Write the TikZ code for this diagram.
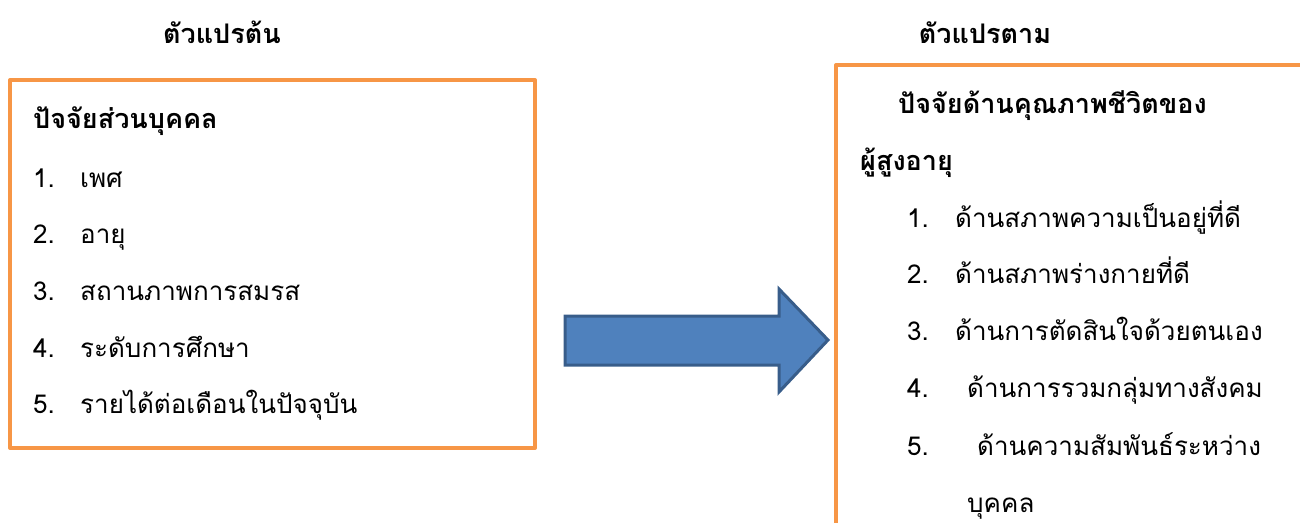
\documentclass[tikz,border=0pt]{standalone}
\usepackage{fontspec}
\newfontfamily\thaifont[Script=Thai]{Loma}
\usetikzlibrary{positioning}

\definecolor{boxorange}{HTML}{F79646}
\definecolor{arrowfill}{HTML}{4F81BD}
\definecolor{arrowline}{HTML}{385D8A}

\tikzset{
    frame/.style={draw=boxorange, line width=4pt, line join=round},
    headtext/.style={font=\thaifont\bfseries\fontsize{27}{31}\selectfont, inner sep=0pt},
    itemtext/.style={font=\thaifont\fontsize{26}{30}\selectfont, inner sep=0pt, anchor=base west}
}

\begin{document}
\begin{tikzpicture}[x=1pt, y=-1pt]
            \useasboundingbox (0,0) rectangle (1300,522);

            % Titles
            \node[headtext, anchor=base] (indep) at (222, 43) {ตัวแปรต้น};
            \node[headtext, anchor=base] (dep) at (985, 43) {ตัวแปรตาม};

            % Boxes
            \draw[frame] (10, 80) rectangle (535, 448);
            \draw[frame] (1320, 65) -- (836, 65) -- (836, 540);

            % Left box text
            \node[headtext, anchor=base west] (personal) at (33, 128) {ปัจจัยส่วนบุคคล};
            \node[itemtext] (n1) at (33, 187) {1.};
            \node[itemtext] (sex) at (80, 187) {เพศ};
            \node[itemtext] (n2) at (33, 243) {2.};
            \node[itemtext] (age) at (80, 243) {อายุ};
            \node[itemtext] (n3) at (33, 300) {3.};
            \node[itemtext] (marital) at (80, 300) {สถานภาพการสมรส};
            \node[itemtext] (n4) at (33, 357) {4.};
            \node[itemtext] (edu) at (80, 357) {ระดับการศึกษา};
            \node[itemtext] (n5) at (33, 413) {5.};
            \node[itemtext] (income) at (80, 413) {รายได้ต่อเดือนในปัจจุบัน};

            % Right box text
            \node[headtext, anchor=base west] (quality) at (898, 113) {ปัจจัยด้านคุณภาพชีวิตของ};
            \node[headtext, anchor=base west] (elderly) at (860, 170) {ผู้สูงอายุ};
            \node[itemtext] (m1) at (907, 227) {1.};
            \node[itemtext] (wellbeing) at (955, 227) {ด้านสภาพความเป็นอยู่ที่ดี};
            \node[itemtext] (m2) at (907, 283) {2.};
            \node[itemtext] (health) at (955, 283) {ด้านสภาพร่างกายที่ดี};
            \node[itemtext] (m3) at (907, 340) {3.};
            \node[itemtext] (selfdecide) at (955, 340) {ด้านการตัดสินใจด้วยตนเอง};
            \node[itemtext] (m4) at (907, 397) {4.};
            \node[itemtext] (social) at (967, 397) {ด้านการรวมกลุ่มทางสังคม};
            \node[itemtext] (m5) at (907, 455) {5.};
            \node[itemtext] (relation) at (977, 455) {ด้านความสัมพันธ์ระหว่าง};
            \node[itemtext] (person) at (967, 512) {บุคคล};

            % Arrow
            \draw[fill=arrowfill, draw=arrowline, line width=3pt, line join=miter]
                (565, 316) -- (779, 316) -- (779, 289) -- (828, 340)
                -- (779, 392) -- (779, 365) -- (565, 365) -- cycle;
        \end{tikzpicture}
\end{document}
